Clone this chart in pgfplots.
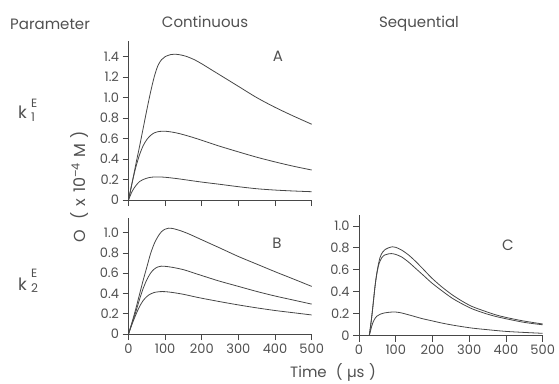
\documentclass[border=0pt]{standalone}
\usepackage{pgfplots}
\pgfplotsset{compat=1.18}
\usepackage{fontspec}
\setmainfont{Poppins}
\definecolor{ink}{HTML}{474747}
\definecolor{txt}{HTML}{505050}
\pgfplotsset{panel/.style={
  scale only axis, axis x line*=bottom, axis y line*=left,
  xmin=0, xmax=500, ymin=0, tick align=outside, major tick length=6pt,
  xtick={0,100,200,300,400,500},
  axis line style={ink, line width=0.8pt}, tick style={ink, line width=0.8pt},
  tick label style={font=\fontsize{13}{13}\selectfont, text=txt},
  /pgf/number format/assume math mode=true,
  clip=false,
},
curve/.style={draw=ink, line width=0.8pt, smooth, tension=0.5, mark=none}}
\begin{document}
\begin{tikzpicture}[x=1pt,y=1pt]
\path[use as bounding box] (0,0) rectangle (559,-383);
% Panel A
\begin{axis}[panel, at={(128.5pt,-200pt)}, anchor=south west,
  width=183.2pt, height=158.7pt, ymax=1.55,
  ytick={0,0.2,0.4,0.6,0.8,1.0,1.2,1.4},
  yticklabels={0,0.2,0.4,0.6,0.8,1.0,1.2,1.4},
  xticklabels={}]
\addplot[curve] coordinates {(0,0) (10,0.17) (20,0.35) (30,0.52) (40,0.70) (50,0.88) (60,1.05) (70,1.20) (80,1.31) (90,1.37) (100,1.40) (115,1.42) (130,1.423) (145,1.415) (160,1.40) (180,1.37) (200,1.33) (225,1.275) (250,1.22) (275,1.165) (300,1.11) (350,1.00) (400,0.905) (450,0.82) (500,0.74)};
\addplot[curve] coordinates {(0,0) (10,0.17) (20,0.32) (30,0.44) (40,0.53) (50,0.59) (60,0.63) (70,0.655) (80,0.667) (95,0.672) (110,0.668) (130,0.656) (150,0.638) (175,0.612) (200,0.583) (225,0.553) (250,0.524) (300,0.47) (350,0.418) (400,0.372) (450,0.33) (500,0.293)};
\addplot[curve] coordinates {(0,0) (10,0.085) (20,0.14) (30,0.18) (40,0.20) (55,0.218) (70,0.225) (85,0.225) (100,0.222) (130,0.21) (160,0.195) (200,0.175) (250,0.153) (300,0.13) (350,0.11) (400,0.097) (450,0.088) (500,0.081)};
\end{axis}
% Panel B
\begin{axis}[panel, at={(128.5pt,-334pt)}, anchor=south west,
  width=183.2pt, height=116.5pt, ymax=1.15,
  ytick={0,0.2,0.4,0.6,0.8,1.0},
  yticklabels={0,0.2,0.4,0.6,0.8,1.0},
  xticklabels={0,100,200,300,400,500}]
\addplot[curve] coordinates {(0,0) (10,0.12) (20,0.25) (30,0.39) (40,0.53) (50,0.66) (60,0.79) (70,0.89) (80,0.96) (90,1.01) (100,1.035) (110,1.045) (120,1.042) (140,1.022) (160,0.995) (180,0.963) (200,0.93) (250,0.848) (300,0.765) (350,0.69) (400,0.615) (450,0.543) (500,0.47)};
\addplot[curve] coordinates {(0,0) (10,0.11) (20,0.22) (30,0.34) (40,0.45) (50,0.535) (60,0.60) (70,0.64) (80,0.662) (90,0.67) (100,0.668) (120,0.658) (150,0.635) (175,0.606) (200,0.577) (225,0.548) (250,0.52) (300,0.47) (350,0.42) (400,0.375) (450,0.335) (500,0.295)};
\addplot[curve] coordinates {(0,0) (10,0.10) (20,0.19) (30,0.27) (40,0.33) (50,0.37) (60,0.395) (70,0.41) (85,0.418) (100,0.418) (120,0.41) (150,0.392) (175,0.372) (200,0.353) (250,0.319) (300,0.287) (350,0.258) (400,0.232) (450,0.21) (500,0.188)};
\end{axis}
% Panel C
\begin{axis}[panel, at={(359pt,-335.5pt)}, anchor=south west,
  width=183.7pt, height=120.5pt, ymax=1.10,
  ytick={0,0.2,0.4,0.6,0.8,1.0},
  yticklabels={0,0.2,0.4,0.6,0.8,1.0},
  xticklabels={0,100,200,300,400,500}]
\addplot[curve] coordinates {(28,0) (35,0.18) (44,0.46) (50,0.60) (57,0.71) (64,0.76) (71,0.785) (80,0.80) (91,0.81) (100,0.805) (116,0.78) (135,0.735) (153,0.68) (175,0.605) (198,0.525) (225,0.445) (253,0.373) (280,0.315) (307,0.266) (340,0.225) (371,0.19) (400,0.165) (444,0.135) (475,0.118) (500,0.105)};
\addplot[curve] coordinates {(28,0) (35,0.18) (44,0.46) (50,0.59) (55,0.66) (62,0.71) (70,0.735) (80,0.745) (88,0.748) (100,0.74) (116,0.717) (135,0.67) (153,0.616) (175,0.55) (198,0.48) (225,0.41) (253,0.342) (280,0.29) (307,0.245) (340,0.205) (371,0.175) (400,0.153) (444,0.123) (475,0.108) (500,0.098)};
\addplot[curve] coordinates {(28,0) (32,0.05) (35,0.09) (40,0.135) (48,0.175) (58,0.195) (71,0.207) (85,0.213) (98,0.215) (110,0.21) (125,0.198) (150,0.175) (171,0.155) (200,0.133) (225,0.114) (260,0.092) (307,0.068) (350,0.053) (398,0.038) (450,0.028) (500,0.02)};
\end{axis}
% Texts
\begin{scope}[every node/.style={text=txt, inner sep=0pt, font=\fontsize{15}{15}\selectfont}]
\node[anchor=base west] at (10,-29) {Parameter};
\node[anchor=base] at (205,-27) {Continuous};
\node[anchor=base] at (419,-27) {Sequential};
\node at (278,-56) {A};
\node at (277,-243) {B};
\node at (508,-245) {C};
\node[anchor=base west] at (290,-377) {Time\hspace{0.6em}(\hspace{0.3em}µs\hspace{0.3em})};
\node[rotate=90, font=\fontsize{16}{16}\selectfont] at (80,-187) {O\hspace{0.7em}(\hspace{0.35em}x\hspace{0.35em}10\textsuperscript{–4}\hspace{0.3em}M\hspace{0.35em})};
\node[anchor=base west, font=\fontsize{17}{17}\selectfont] at (18,-118) {k};
\node[anchor=base west, font=\fontsize{12}{12}\selectfont] at (31,-107) {E};
\node[anchor=base west, font=\fontsize{12}{12}\selectfont] at (31,-121) {1};
\node[anchor=base west, font=\fontsize{17}{17}\selectfont] at (18,-290) {k};
\node[anchor=base west, font=\fontsize{12}{12}\selectfont] at (31,-277) {E};
\node[anchor=base west, font=\fontsize{12}{12}\selectfont] at (31,-292) {2};
\end{scope}
\end{tikzpicture}
\end{document}
